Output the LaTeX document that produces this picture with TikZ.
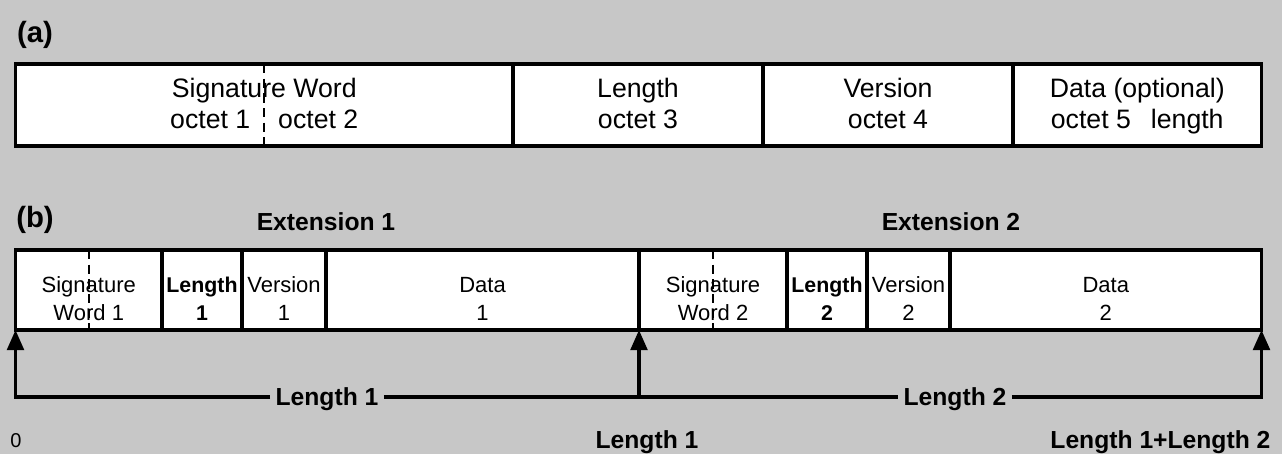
\documentclass[tikz,border=0pt]{standalone}
\usepackage{fontspec}
\setmainfont{Liberation Sans}
\usetikzlibrary{positioning,arrows.meta}
\newcommand{\twolines}[3][0pt]{\raisebox{#1}[\height][\depth]{\begin{tabular}{@{}c@{}}#2\\#3\end{tabular}}}

\begin{document}
\begin{tikzpicture}
[x=0.75pt,y=-0.75pt,line width=2.4pt,
 cella/.style={draw,fill=white,outer sep=0pt,inner sep=0pt,minimum height=61.5pt,
   minimum width=#1*0.75pt,font=\fontsize{20}{23.25}\selectfont},
 cellb/.style={draw,fill=white,outer sep=0pt,inner sep=0pt,minimum height=60pt,
   minimum width=#1*0.75pt,font=\fontsize{16.5}{21}\selectfont},
 heavy/.style={font=\bfseries\fontsize{16}{21}\selectfont},
 split/.style={line width=1.5pt,dash pattern=on 7pt off 4pt},
 arr/.style={-{Triangle[length=15pt,width=12.5pt]}},
 tag/.style={font=\bfseries\fontsize{22}{26}\selectfont},
 lbl/.style={font=\bfseries\fontsize{18.5}{22}\selectfont,inner sep=3pt,text depth=0pt}]
\fill[black!22] (0,0) rectangle (1282,454);
% (a) basic header
\node[tag] (taga) at (35,35) {(a)};
\node[cella=497.5] (sig) at (264.25,105) {\twolines[-1pt]{Signature Word}{octet 1\hspace{21pt}octet 2}};
\node[cella=250,right=0pt of sig] (len) {\twolines[-1pt]{Length}{octet 3}};
\node[cella=250,right=0pt of len] (ver) {\twolines[-1pt]{Version}{octet 4}};
\node[cella=248.5,right=0pt of ver] (dat) {\twolines[-1pt]{Data (optional)}{octet 5\hspace{15pt}length}};
\draw[split] (sig.north) -- (sig.south);
% (b) two extensions in a row
\node[tag] (tagb) at (35,220) {(b)};
\node[cellb=146.5] (sw1) at (88.75,290) {\twolines[-7.8pt]{Signature}{Word 1}};
\node[cellb=80,heavy,right=0pt of sw1] (ln1) {\twolines[-7.8pt]{Length}{1}};
\node[cellb=84,right=0pt of ln1] (vr1) {\twolines[-7.8pt]{Version}{1}};
\node[cellb=313,right=0pt of vr1] (dt1) {\twolines[-7.8pt]{Data}{1}};
\node[cellb=148,right=0pt of dt1] (sw2) {\twolines[-7.8pt]{Signature}{Word 2}};
\node[cellb=80,heavy,right=0pt of sw2] (ln2) {\twolines[-7.8pt]{Length}{2}};
\node[cellb=83,right=0pt of ln2] (vr2) {\twolines[-7.8pt]{Version}{2}};
\node[cellb=311.5,right=0pt of vr2] (dt2) {\twolines[-7.8pt]{Data}{2}};
\draw[split] (sw1.north) -- (sw1.south);
\draw[split] (sw2.north) -- (sw2.south);
\node[lbl] (ext1) at (326,222) {Extension 1};
\node[lbl] (ext2) at (951,222) {Extension 2};
% offsets
\node[lbl] (span1) at (327,397) {Length 1};
\node[lbl] (span2) at (955,397) {Length 2};
\coordinate (c0) at (sw1.south west |- span1);
\coordinate (c1) at (sw2.south west |- span1);
\coordinate (c2) at (dt2.south east |- span1);
\draw[arr] (span1.west) -- (c0) -- (sw1.south west);
\draw[arr] (c1) -- (sw2.south west);
\draw[arr] (span2.east) -- (c2) -- (dt2.south east);
\draw (span1.east) -- (span2.west);
\node[anchor=base,font=\fontsize{15}{18}\selectfont] (pos0) at (16,447) {0};
\node[lbl,anchor=base] (pos1) at (647,448) {Length 1};
\node[lbl,anchor=base east] (pos2) at (1276,448) {Length 1+Length 2};
\end{tikzpicture}
\end{document}
